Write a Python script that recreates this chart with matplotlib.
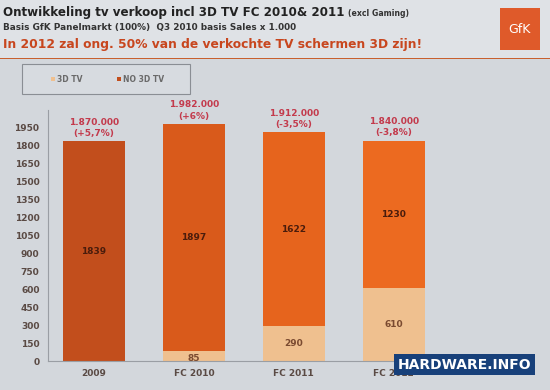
import matplotlib.pyplot as plt
from matplotlib.patches import Rectangle

categories = ["2009", "FC 2010", "FC 2011", "FC 2012"]
tv_3d = [0, 85, 290, 610]
no_3d = [1839, 1897, 1622, 1230]
totals = ["1.870.000\n(+5,7%)", "1.982.000\n(+6%)", "1.912.000\n(-3,5%)", "1.840.000\n(-3,8%)"]
yticks = list(range(0, 2000, 150))

bar_colors = ["#c24e1c", "#d95a1b", "#e6641d", "#ec6a20"]
light = "#efc08f"

fig = plt.figure(figsize=(5.5, 3.9), dpi=100, facecolor="#d3d7dc")

# header band
fig.patches.append(Rectangle((0, 0.852), 1, 0.148, transform=fig.transFigure,
                             facecolor="#dfe2e6", edgecolor="none", zorder=0))
fig.patches.append(Rectangle((0, 0.848), 1, 0.004, transform=fig.transFigure,
                             facecolor="#c8602e", edgecolor="none", zorder=1))
fig.text(0.006, 0.968, "Ontwikkeling tv verkoop incl 3D TV FC 2010& 2011", fontsize=8.6,
         fontweight="bold", color="#222222", va="center")
fig.text(0.632, 0.966, "(excl Gaming)", fontsize=5.6, fontweight="bold", color="#333333", va="center")
fig.text(0.006, 0.929, "Basis GfK Panelmarkt (100%)  Q3 2010 basis Sales x 1.000", fontsize=6.4,
         fontweight="bold", color="#333333", va="center")
fig.text(0.006, 0.886, "In 2012 zal ong. 50% van de verkochte TV schermen 3D zijn!", fontsize=8.8,
         fontweight="bold", color="#c8461e", va="center")
fig.patches.append(Rectangle((0.909, 0.872), 0.073, 0.107, transform=fig.transFigure,
                             facecolor="#df5a2a", edgecolor="none", zorder=2))
fig.text(0.945, 0.925, "GfK", fontsize=9, color="white", ha="center", va="center", zorder=3)

ax = fig.add_axes([0.087, 0.074, 0.72, 0.644])
ax.set_facecolor("none")
x = range(len(categories))
b1 = ax.bar(x, tv_3d, width=0.62, color=light, label="3D TV")
b2 = ax.bar(x, no_3d, width=0.62, bottom=tv_3d, color=bar_colors, label="NO 3D TV")

for i in x:
    if tv_3d[i] > 0:
        ax.text(i, tv_3d[i] / 2 - (20 if tv_3d[i] < 150 else 0), str(tv_3d[i]), ha="center",
                va="center", fontsize=6.5, fontweight="bold", color="#7a4a30")
    ax.text(i, tv_3d[i] + no_3d[i] / 2, str(no_3d[i]), ha="center", va="center",
            fontsize=6.5, fontweight="bold", color="#4a1c0c")
    ax.text(i, tv_3d[i] + no_3d[i] + 30, totals[i], ha="center", va="bottom",
            fontsize=6.5, fontweight="bold", color="#c33a4c", linespacing=1.3)

ax.set_ylim(0, 2100)
ax.set_xlim(-0.46, 3.5)
ax.set_yticks(yticks)
ax.set_xticks(list(x))
ax.set_xticklabels(categories)
ax.tick_params(length=0, labelsize=6.5, labelcolor="#5a4a44", pad=6)
for lab in ax.get_xticklabels() + ax.get_yticklabels():
    lab.set_fontweight("bold")
for s in ["top", "right"]:
    ax.spines[s].set_visible(False)
for s in ["left", "bottom"]:
    ax.spines[s].set_color("#9a9ea4")
    ax.spines[s].set_linewidth(0.8)

# legend box
fig.patches.append(Rectangle((0.04, 0.759), 0.305, 0.077, transform=fig.transFigure,
                             facecolor="#d7dbe0", edgecolor="#8a8e94", linewidth=0.8, zorder=1))
leg = fig.legend(handles=[b1, b2], loc="center", bbox_to_anchor=(0.195, 0.797),
                 ncol=2, fontsize=5.5, frameon=False, handlelength=0.6,
                 handleheight=0.6, handletextpad=0.2, columnspacing=4.5)
for t in leg.get_texts():
    t.set_fontweight("bold")
    t.set_color("#6a6a6a")

fig.text(0.845, 0.065, "HARDWARE.INFO", fontsize=10, fontweight="bold", color="white",
         ha="center", va="center",
         bbox=dict(boxstyle="square,pad=0.25", facecolor="#17407a", edgecolor="none"))

fig.savefig("out.png", dpi=100, facecolor=fig.get_facecolor())
